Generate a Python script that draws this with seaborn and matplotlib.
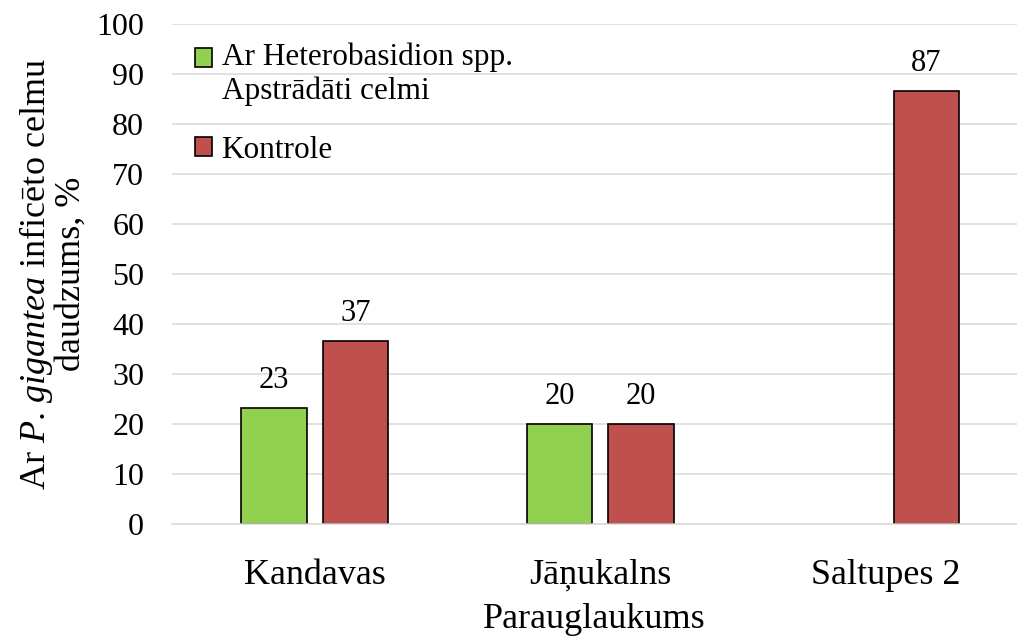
import numpy as np
import pandas as pd
import matplotlib
matplotlib.use("Agg")
import matplotlib.pyplot as plt
import seaborn as sns
from matplotlib.legend_handler import HandlerPatch
from matplotlib.patches import Rectangle

sites = ["Kandavas", "Jāņukalns", "Saltupes 2"]
treated = [23.3, 20.0, np.nan]
control = [36.7, 20.0, 86.7]
series_names = ["Ar Heterobasidion spp.\nApstrādāti celmi", "Kontrole"]
colors = ["#92d050", "#c0504d"]

df = pd.DataFrame({
    "site": sites * 2,
    "group": [series_names[0]] * 3 + [series_names[1]] * 3,
    "value": treated + control,
})
df = df.dropna()

sns.set_theme(style="white")
plt.rcParams["font.family"] = ["Liberation Serif", "DejaVu Serif"]
plt.rcParams["mathtext.fontset"] = "custom"
plt.rcParams["mathtext.rm"] = "Liberation Serif"
plt.rcParams["mathtext.it"] = "Liberation Serif:italic"
plt.rcParams["text.color"] = "black"
plt.rcParams["axes.labelcolor"] = "black"
plt.rcParams["xtick.color"] = "black"
plt.rcParams["ytick.color"] = "black"

fig = plt.figure(figsize=(10.17, 6.36), dpi=100)
ax = fig.add_axes([172 / 1017, 1 - 524 / 636, 1 - 172 / 1017, 500 / 636])

sns.barplot(data=df, x="site", y="value", hue="group", order=sites,
            hue_order=series_names, palette=colors, saturation=1,
            width=0.572, gap=0.2, edgecolor="black", linewidth=1.2,
            ax=ax, errorbar=None)

for cont in ax.containers:
    ax.bar_label(cont, fmt="%.0f", padding=9, fontsize=22, color="black")

ax.set_ylim(0, 100)
ax.set_xlim(-0.5, (1017 - 172) / 285.5 - 0.5)
ax.set_yticks(np.arange(0, 101, 10))
ax.yaxis.grid(True, color="#d9d9d9", linewidth=1.1)
ax.set_axisbelow(True)
for s in ["top", "right", "left"]:
    ax.spines[s].set_visible(False)
ax.spines["bottom"].set_color("#d9d9d9")
ax.spines["bottom"].set_linewidth(1.1)
ax.tick_params(axis="y", length=0, pad=20, labelsize=23)
ax.tick_params(axis="x", length=0, pad=25, labelsize=26)

ax.set_xlabel("Parauglaukums", fontsize=26, labelpad=8)
ax.set_ylabel("Ar $\\it{P}$. $\\it{gigantea}$ inficēto celmu\ndaudzums, %",
              fontsize=26, labelpad=6, linespacing=1.0)


# keep the square next to the first line of a two-line label
def top_square(legend, orig_handle, xdescent, ydescent, width, height, fontsize):
    return Rectangle((-xdescent, -ydescent + 0.55 * fontsize), width, height)


handles, labels = ax.get_legend_handles_labels()
leg = ax.legend(handles, labels, loc="upper left", bbox_to_anchor=(0.005, 1.0),
                frameon=False, fontsize=22.5, handlelength=0.55,
                handleheight=0.55, handletextpad=0.3, labelspacing=0.95,
                borderaxespad=0.2,
                handler_map={handles[0]: HandlerPatch(patch_func=top_square)})

fig.savefig("out.png", dpi=100)
